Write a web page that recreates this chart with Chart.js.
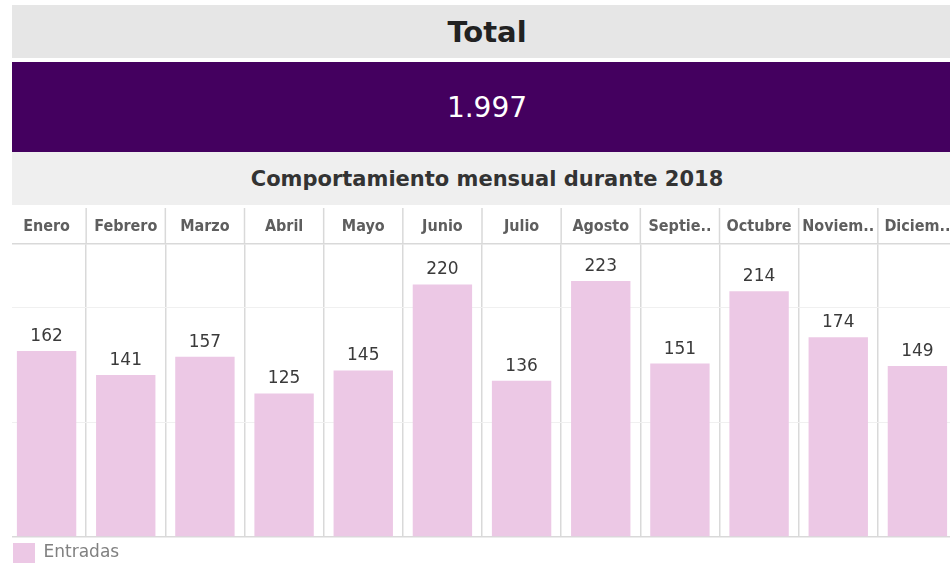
<!DOCTYPE html>
<html>
<head>
<meta charset="utf-8">
<script src="https://cdn.jsdelivr.net/npm/chart.js@4"></script>
<style>
  html, body { margin: 0; padding: 0; background: #fff; }
  body { width: 950px; height: 573px; overflow: hidden; position: relative; font-family: "DejaVu Sans", sans-serif; }
  .band { position: absolute; left: 12px; width: 950px; display: flex; align-items: center; justify-content: center; }
  #total { top: 5px; height: 53px; background: #e6e6e6; color: #222; font-weight: bold; font-size: 29px; }
  #kpi { top: 62px; height: 90px; background: #44005f; color: #fff; font-size: 28px; }
  #sub { top: 152px; height: 53px; background: #efefef; color: #333; font-weight: bold; font-size: 21px; }
  #clip { position: absolute; left: 12px; top: 205px; width: 938px; height: 368px; overflow: hidden; }
  #wrap { position: absolute; left: -12px; top: 0; width: 965px; height: 368px; }
</style>
</head>
<body>
<div class="band" id="total">Total</div>
<div class="band" id="kpi">1.997</div>
<div class="band" id="sub">Comportamiento mensual durante 2018</div>
<div id="clip"><div id="wrap"><canvas id="c"></canvas></div></div>
<script>
  const months = ["Enero", "Febrero", "Marzo", "Abril", "Mayo", "Junio", "Julio", "Agosto", "Septie..", "Octubre", "Noviem..", "Diciem.."];
  const entradas = [162, 141, 157, 125, 145, 220, 136, 223, 151, 214, 174, 149];
  const yTicks = [0, 100, 200];

  // value above each bar
  const valueLabels = {
    id: "valueLabels",
    afterDatasetsDraw(chart) {
      const ctx = chart.ctx;
      const meta = chart.getDatasetMeta(0);
      ctx.save();
      ctx.font = "17px 'DejaVu Sans', sans-serif";
      ctx.fillStyle = "#3a3a3a";
      ctx.textAlign = "center";
      ctx.textBaseline = "bottom";
      meta.data.forEach((bar, i) => {
        ctx.fillText(entradas[i], bar.x, bar.y - 6);
      });
      ctx.restore();
    }
  };

  // carry the column separators up through the header row
  const headerLines = {
    id: "headerLines",
    afterDraw(chart) {
      const x = chart.scales.x;
      const ctx = chart.ctx;
      const top = chart.chartArea.top;
      ctx.save();
      ctx.strokeStyle = "#d9d9d9";
      ctx.lineWidth = 1.5;
      for (let i = 1; i < months.length; i++) {
        const px = (x.getPixelForValue(i - 1) + x.getPixelForValue(i)) / 2;
        ctx.beginPath();
        ctx.moveTo(px, 3);
        ctx.lineTo(px, top);
        ctx.stroke();
      }
      ctx.restore();
    }
  };

  new Chart(document.getElementById("c"), {
    type: "bar",
    data: {
      labels: months,
      datasets: [{
        label: "Entradas",
        data: entradas,
        backgroundColor: "#ecc8e5",
        barPercentage: 0.75,
        categoryPercentage: 1
      }]
    },
    options: {
      responsive: true,
      maintainAspectRatio: false,
      animation: false,
      layout: { padding: { left: 7, right: 8, top: 4 } },
      plugins: {
        legend: {
          position: "bottom",
          align: "start",
          labels: {
            boxWidth: 22,
            boxHeight: 20,
            color: "#808080",
            font: { size: 17, family: "'DejaVu Sans', sans-serif" },
            padding: 6
          }
        },
        tooltip: { enabled: false }
      },
      scales: {
        x: {
          position: "top",
          grid: {
            offset: true,
            drawTicks: false,
            color: ctx => ctx.index === 0 ? "rgba(0,0,0,0)" : "#d9d9d9",
            lineWidth: 1.5
          },
          border: { color: "#d9d9d9", width: 1.5 },
          ticks: {
            color: "#5e5e5e",
            font: { size: 16, weight: "bold", family: "'Liberation Sans Narrow', 'DejaVu Sans Condensed', sans-serif" },
            padding: 8,
            maxRotation: 0,
            autoSkip: false
          }
        },
        y: {
          min: 0,
          max: 255,
          afterBuildTicks(axis) { axis.ticks = yTicks.map(v => ({ value: v })); },
          ticks: { display: false },
          grid: {
            drawTicks: false,
            color: ctx => ctx.tick && ctx.tick.value === 0 ? "#d9d9d9" : "#f0f0f0",
            lineWidth: ctx => ctx.tick && ctx.tick.value === 0 ? 1.5 : 1
          },
          border: { display: false }
        }
      }
    },
    plugins: [valueLabels, headerLines]
  });
</script>
</body>
</html>
